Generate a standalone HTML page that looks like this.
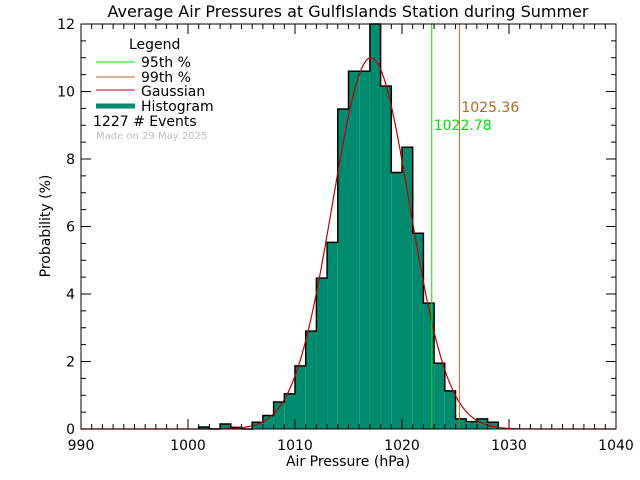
<!DOCTYPE html>
<html><head><meta charset="utf-8"><style>
body{margin:0;background:#fff}
svg{display:block;font-family:"DejaVu Sans","Liberation Sans",sans-serif}
</style></head><body>
<svg id="chart" width="640" height="480" viewBox="0 0 640 480">
<rect width="640" height="480" fill="#fff"/>
<text x="348" y="17" font-size="16" text-anchor="middle">Average Air Pressures at GulfIslands Station during Summer</text>
<g id="bars"></g>
<path id="outline" fill="none" stroke="#000" stroke-width="1.5"/>
<path id="gauss" fill="none" stroke="#c00000" stroke-width="1.2"/>
<g id="pct"></g>
<g id="axes"></g>
<text x="348" y="466" font-size="14" text-anchor="middle">Air Pressure (hPa)</text>
<text transform="translate(50,226) rotate(-90)" font-size="14" text-anchor="middle">Probability (%)</text>
<g font-size="14">
<text x="129" y="49">Legend</text>
<line x1="96" y1="62" x2="135" y2="62" stroke="#00e000"/>
<text x="141" y="67">95th %</text>
<line x1="96" y1="77" x2="135" y2="77" stroke="#b06a20"/>
<text x="141" y="82">99th %</text>
<line x1="96" y1="90" x2="135" y2="90" stroke="#c00000"/>
<text x="141" y="96">Gaussian</text>
<line x1="96" y1="106" x2="135" y2="106" stroke="#008a6e" stroke-width="5"/>
<text x="141" y="111">Histogram</text>
<text x="93" y="126">1227  # Events</text>
<text x="96" y="139" font-size="10" fill="#c0c0c0">Made on 29 May 2025</text>
</g>
</svg>
<script>
const binStarts=[1001,1002,1003,1004,1005,1006,1007,1008,1009,1010,1011,1012,1013,1014,1015,1016,1017,1018,1019,1020,1021,1022,1023,1024,1025,1026,1027,1028];
const binValues=[0.06,0,0.15,0.05,0,0.2,0.4,0.8,1.04,1.87,2.9,4.47,5.53,9.48,10.6,10.6,12.0,10.16,7.6,8.35,5.8,3.73,1.95,1.13,0.3,0.22,0.3,0.2];
const gaussMean=1017.1, gaussSigma=3.6, gaussPeak=11.0;
const percentiles=[1022.78,1025.36];
const percentileLabels=["1022.78","1025.36"];
const xTicks=[990,1000,1010,1020,1030,1040];
const yTicks=[0,2,4,6,8,10,12];
const X0=81,X1=616,Y0=429,Y1=24;
const sx=v=>X0+(v-990)/50*(X1-X0);
const sy=v=>Y0-v/12*(Y0-Y1);
const NS="http://www.w3.org/2000/svg";
function mk(t,a,p){const e=document.createElementNS(NS,t);for(const k in a)e.setAttribute(k,a[k]);p.appendChild(e);return e;}
const bars=document.getElementById('bars');
let d="";
binStarts.forEach((b,i)=>{
 const v=binValues[i];
 const r=mk('rect',{x:sx(b),y:sy(v),width:sx(b+1)-sx(b),height:Y0-sy(v),fill:'#008a6e'},bars);
 
 
 d+=(i===0?"M"+sx(b)+","+Y0:"")+" L"+sx(b)+","+sy(v)+" L"+sx(b+1)+","+sy(v);
});
d+=" L"+sx(binStarts[binStarts.length-1]+1)+","+Y0;
document.getElementById('outline').setAttribute('d',d);
let g="";
for(let x=990;x<=1040;x+=0.1){
 const v=gaussPeak*Math.exp(-Math.pow(x-gaussMean,2)/(2*gaussSigma*gaussSigma));
 g+=(g?" L":"M")+sx(x).toFixed(1)+","+sy(v).toFixed(1);
}
document.getElementById('gauss').setAttribute('d',g);
const pc=document.getElementById('pct');
const pcol=["#00e000","#b06a20"];
const ply=[130,112];
percentiles.forEach((p,i)=>{
 const l=mk('line',{x1:sx(p),x2:sx(p),y1:Y1,y2:Y0,stroke:pcol[i]},pc);
 
 
 const t=mk('text',{x:sx(p)+2,y:ply[i],fill:pcol[i],'font-size':14},pc);
 
 
 t.textContent=percentileLabels[i];
});
const ax=document.getElementById('axes');
mk('rect',{x:X0,y:Y1,width:X1-X0,height:Y0-Y1,fill:'none',stroke:'#000'},ax);
for(let v=990;v<=1040;v++){
 const L=(v%10===0)?10:5;
 mk('line',{x1:sx(v),x2:sx(v),y1:Y0,y2:Y0-L,stroke:'#000'},ax);
 mk('line',{x1:sx(v),x2:sx(v),y1:Y1,y2:Y1+L,stroke:'#000'},ax);
}
for(let v=0;v<=12;v+=0.5){
 const L=(v%2===0)?10:5;
 mk('line',{x1:X0,x2:X0+L,y1:sy(v),y2:sy(v),stroke:'#000'},ax);
 mk('line',{x1:X1,x2:X1-L,y1:sy(v),y2:sy(v),stroke:'#000'},ax);
}
xTicks.forEach(v=>{
 const t=mk('text',{x:sx(v),y:Y0+21,'font-size':14,'text-anchor':'middle'},ax);
 
 
 t.textContent=v;
});
yTicks.forEach(v=>{
 const t=mk('text',{x:X0-6,y:sy(v)+5,'font-size':14,'text-anchor':'end'},ax);
 
 
 t.textContent=v;
});
</script>
</body></html>
